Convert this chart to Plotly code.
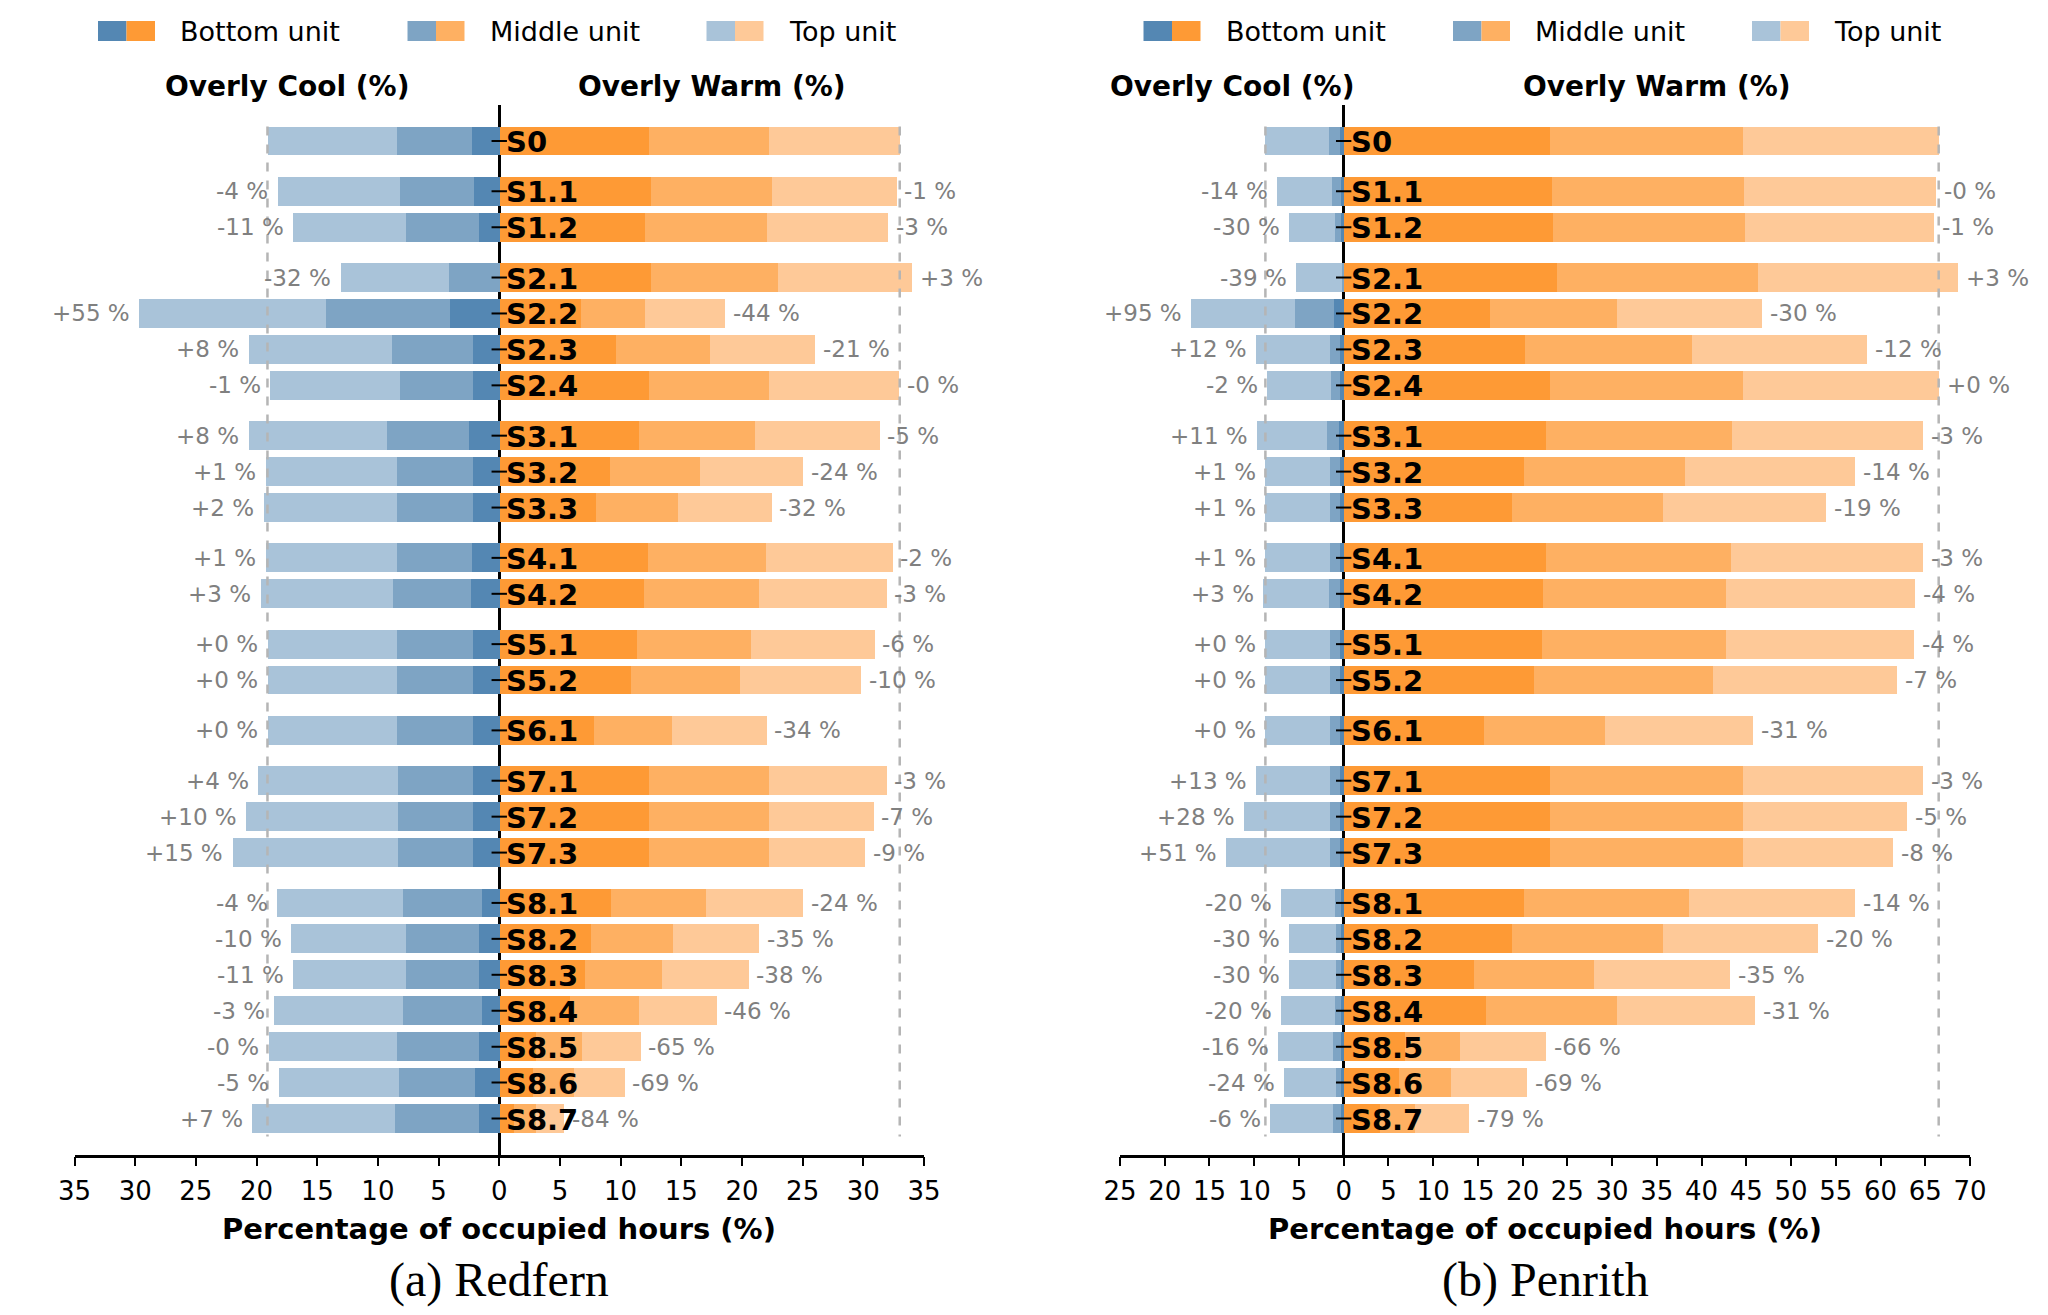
import plotly.graph_objects as go

# scenario rows (top to bottom)
scenarios = ["S0", "S1.1", "S1.2", "S2.1", "S2.2", "S2.3", "S2.4",
             "S3.1", "S3.2", "S3.3", "S4.1", "S4.2", "S5.1", "S5.2",
             "S6.1", "S7.1", "S7.2", "S7.3", "S8.1", "S8.2", "S8.3",
             "S8.4", "S8.5", "S8.6", "S8.7"]

# (a) Redfern - overly warm hours (%) per unit
redfern_warm_bottom = [12.3, 12.5, 12.0, 12.5, 6.7, 9.6, 12.3, 11.5, 9.1, 7.9, 12.2, 11.9, 11.3,
                       10.8, 7.8, 12.3, 12.3, 12.3, 9.2, 7.5, 7.0, 5.8, 3.0, 2.7, 1.2]
redfern_warm_middle = [9.9, 9.9, 10.0, 10.4, 5.3, 7.7, 9.9, 9.5, 7.4, 6.8, 9.7, 9.5, 9.4,
                       9.0, 6.4, 9.9, 9.9, 9.9, 7.8, 6.8, 6.35, 5.7, 3.8, 3.4, 1.8]
redfern_warm_top = [10.8, 10.3, 10.0, 11.1, 6.6, 8.7, 10.7, 10.3, 8.5, 7.7, 10.5, 10.5, 10.2,
                    10.0, 7.8, 9.7, 8.6, 7.9, 8.0, 7.1, 7.15, 6.4, 4.8, 4.2, 2.3]
# (a) Redfern - overly cool hours (%) per unit
redfern_cool_bottom = [2.25, 2.1, 1.75, 0.0, 4.1, 2.2, 2.2, 2.55, 2.2, 2.2, 2.3, 2.4, 2.2,
                       2.2, 2.2, 2.2, 2.2, 2.2, 1.5, 1.75, 1.75, 1.5, 1.7, 2.0, 1.7]
redfern_cool_middle = [6.2, 6.1, 5.95, 4.2, 10.2, 6.65, 6.05, 6.75, 6.25, 6.25, 6.2, 6.4, 6.25,
                       6.25, 6.25, 6.2, 6.2, 6.2, 6.5, 6.0, 6.0, 6.5, 6.8, 6.3, 6.9]
redfern_cool_top = [10.65, 10.1, 9.3, 8.9, 15.4, 11.85, 10.65, 11.4, 10.85, 11.0, 10.8, 10.9, 10.65,
                    10.65, 10.65, 11.5, 12.5, 13.6, 10.35, 9.45, 9.25, 10.6, 10.55, 9.9, 11.8]
redfern_cool_labels = ["", "-4 %", "-11 %", "-32 %", "+55 %", "+8 %", "-1 %", "+8 %", "+1 %",
                       "+2 %", "+1 %", "+3 %", "+0 %", "+0 %", "+0 %", "+4 %", "+10 %", "+15 %",
                       "-4 %", "-10 %", "-11 %", "-3 %", "-0 %", "-5 %", "+7 %"]
redfern_warm_labels = ["", "-1 %", "-3 %", "+3 %", "-44 %", "-21 %", "-0 %", "-5 %", "-24 %",
                       "-32 %", "-2 %", "-3 %", "-6 %", "-10 %", "-34 %", "-3 %", "-7 %", "-9 %",
                       "-24 %", "-35 %", "-38 %", "-46 %", "-65 %", "-69 %", "-84 %"]

# (b) Penrith - overly warm hours (%) per unit
penrith_warm_bottom = [23.1, 23.3, 23.4, 23.8, 16.3, 20.3, 23.1, 22.6, 20.1, 18.8, 22.6, 22.3, 22.2,
                       21.3, 15.7, 23.1, 23.1, 23.1, 20.1, 18.8, 14.6, 15.9, 6.9, 6.2, 4.1]
penrith_warm_middle = [21.5, 21.4, 21.4, 22.5, 14.2, 18.6, 21.5, 20.8, 18.1, 16.9, 20.7, 20.4, 20.5,
                       20.0, 13.5, 21.5, 21.5, 21.5, 18.5, 16.9, 13.4, 14.6, 6.1, 5.8, 3.9]
penrith_warm_top = [21.9, 21.5, 21.2, 22.4, 16.3, 19.6, 21.9, 21.3, 19.0, 18.2, 21.4, 21.1, 21.0,
                    20.5, 16.5, 20.2, 18.4, 16.8, 18.6, 17.3, 15.2, 15.5, 9.6, 8.5, 6.0]
# (b) Penrith - overly cool hours (%) per unit
penrith_cool_bottom = [0.4, 0.3, 0.3, 0.0, 1.05, 0.4, 0.4, 0.5, 0.4, 0.4, 0.4, 0.4, 0.4,
                       0.4, 0.4, 0.4, 0.4, 0.4, 0.3, 0.25, 0.25, 0.3, 0.3, 0.25, 0.3]
penrith_cool_middle = [1.2, 1.0, 0.7, 0.2, 4.35, 1.15, 1.0, 1.4, 1.15, 1.15, 1.15, 1.2, 1.15,
                       1.15, 1.15, 1.15, 1.15, 1.15, 0.7, 0.6, 0.6, 0.7, 0.85, 0.6, 0.85]
penrith_cool_top = [7.15, 6.2, 5.1, 5.1, 11.65, 8.25, 7.2, 7.8, 7.3, 7.3, 7.3, 7.4, 7.2,
                    7.2, 7.2, 8.3, 9.6, 11.6, 6.0, 5.25, 5.25, 6.0, 6.2, 5.8, 7.05]
penrith_cool_labels = ["", "-14 %", "-30 %", "-39 %", "+95 %", "+12 %", "-2 %", "+11 %", "+1 %",
                       "+1 %", "+1 %", "+3 %", "+0 %", "+0 %", "+0 %", "+13 %", "+28 %", "+51 %",
                       "-20 %", "-30 %", "-30 %", "-20 %", "-16 %", "-24 %", "-6 %"]
penrith_warm_labels = ["", "-0 %", "-1 %", "+3 %", "-30 %", "-12 %", "+0 %", "-3 %", "-14 %",
                       "-19 %", "-3 %", "-4 %", "-4 %", "-7 %", "-31 %", "-3 %", "-5 %", "-8 %",
                       "-14 %", "-20 %", "-35 %", "-31 %", "-66 %", "-69 %", "-79 %"]

redfern_ticks = [-35, -30, -25, -20, -15, -10, -5, 0, 5, 10, 15, 20, 25, 30, 35]
redfern_tick_text = ["35", "30", "25", "20", "15", "10", "5", "0", "5", "10", "15", "20", "25", "30", "35"]
penrith_ticks = [-25, -20, -15, -10, -5, 0, 5, 10, 15, 20, 25, 30, 35, 40, 45, 50, 55, 60, 65, 70]
penrith_tick_text = ["25", "20", "15", "10", "5", "0", "5", "10", "15", "20", "25", "30", "35",
                     "40", "45", "50", "55", "60", "65", "70"]

unit_names = ["Bottom unit", "Middle unit", "Top unit"]
blues = ["#5487b3", "#7ea4c4", "#a9c3d9"]
oranges = ["#fe9a35", "#feb062", "#fec998"]

FONT = "DejaVu Sans"
OFF = 8                      # page body margin
W, H = 2048 - OFF, 1315 - OFF


def xp(px):
    return (px - OFF) / W


def yp(px):
    return 1 - (px - OFF) / H


# rows grouped by scenario family, with a gap between families
groups = [int(s[1:].split(".")[0]) for s in scenarios]
y_pos = [i + 0.4 * g for i, g in enumerate(groups)]

fig = go.Figure()
annotations = []
shapes = []


def add_panel(n, cool, warm, cool_labels, warm_labels, xr, ticks, tick_text, dom_px, caption):
    xa = "x" if n == 1 else "x%d" % n
    ya = "y" if n == 1 else "y%d" % n
    for k in range(3):
        fig.add_trace(go.Bar(y=y_pos, x=[-v for v in cool[k]], orientation="h", width=0.8,
                             marker=dict(color=blues[k], line=dict(width=0)),
                             xaxis=xa, yaxis=ya, hoverinfo="skip"))
    for k in range(3):
        fig.add_trace(go.Bar(y=y_pos, x=warm[k], orientation="h", width=0.8,
                             marker=dict(color=oranges[k], line=dict(width=0)),
                             xaxis=xa, yaxis=ya, hoverinfo="skip"))
    # small y ticks on the zero line
    fig.add_trace(go.Scatter(x=[0] * len(y_pos), y=y_pos, mode="markers", xaxis=xa, yaxis=ya,
                             marker=dict(symbol="line-ew", size=11, line=dict(color="black", width=2)),
                             hoverinfo="skip"))

    cool_tot = [a + b + c for a, b, c in zip(*cool)]
    warm_tot = [a + b + c for a, b, c in zip(*warm)]

    # reference lines at S0 totals
    for xv in (-cool_tot[0], warm_tot[0]):
        shapes.append(dict(type="line", xref=xa, yref=ya, x0=xv, x1=xv, y0=-0.4, y1=27.7,
                           line=dict(color="#b5b5b5", width=2.5, dash="dash"), layer="above"))

    for y, ct, wt, cl, wl in zip(y_pos, cool_tot, warm_tot, cool_labels, warm_labels):
        if cl:
            annotations.append(dict(x=-ct, y=y, xref=xa, yref=ya, text=cl, showarrow=False,
                                    xanchor="right", yanchor="middle", xshift=-7,
                                    font=dict(family=FONT, size=23, color="#808080")))
        if wl:
            annotations.append(dict(x=wt, y=y, xref=xa, yref=ya, text=wl, showarrow=False,
                                    xanchor="left", yanchor="middle", xshift=6,
                                    font=dict(family=FONT, size=23, color="#808080")))
    for y, s in zip(y_pos, scenarios):
        annotations.append(dict(x=0, y=y, xref=xa, yref=ya, text=s, showarrow=False,
                                xanchor="left", yanchor="middle", xshift=5, yshift=-1,
                                font=dict(family=FONT, size=29, color="black", weight="bold")))

    # headers
    annotations.append(dict(x=xr[0] / 2, y=1, xref=xa, yref=ya + " domain", text="Overly Cool (%)",
                            showarrow=False, xanchor="center", yanchor="bottom",
                            font=dict(family=FONT, size=28, color="black", weight="bold")))
    annotations.append(dict(x=xr[1] / 2, y=1, xref=xa, yref=ya + " domain", text="Overly Warm (%)",
                            showarrow=False, xanchor="center", yanchor="bottom",
                            font=dict(family=FONT, size=28, color="black", weight="bold")))
    # axis title and caption
    annotations.append(dict(x=0.5, y=yp(1229), xref=xa + " domain", yref="paper",
                            text="Percentage of occupied hours (%)", showarrow=False,
                            xanchor="center", yanchor="middle",
                            font=dict(family=FONT, size=29, color="black", weight="bold")))
    annotations.append(dict(x=0.5, y=yp(1280), xref=xa + " domain", yref="paper",
                            text=caption, showarrow=False, xanchor="center", yanchor="middle",
                            font=dict(family="Liberation Serif", size=48, color="black")))

    # legend (two-colour swatches)
    left = dom_px[0]
    for k, (off, name) in enumerate(zip([23.5, 333, 632], unit_names)):
        x0 = left + off
        shapes.append(dict(type="rect", xref="paper", yref="paper",
                           x0=xp(x0), x1=xp(x0 + 28.5), y0=yp(41), y1=yp(21),
                           fillcolor=blues[k], line=dict(width=0)))
        shapes.append(dict(type="rect", xref="paper", yref="paper",
                           x0=xp(x0 + 28.5), x1=xp(x0 + 57), y0=yp(41), y1=yp(21),
                           fillcolor=oranges[k], line=dict(width=0)))
        annotations.append(dict(x=xp(x0 + 80), y=yp(31), xref="paper", yref="paper",
                                text=name, showarrow=False, xanchor="left", yanchor="middle",
                                font=dict(family=FONT, size=27, color="black")))

    axis_x = dict(domain=[xp(dom_px[0]), xp(dom_px[1])], range=xr, anchor=ya, automargin=False,
                  tickmode="array", tickvals=ticks, ticktext=tick_text,
                  showgrid=False, zeroline=True, zerolinecolor="black", zerolinewidth=2.5,
                  showline=True, linecolor="black", linewidth=2.5, ticks="outside",
                  ticklen=9, tickwidth=2, tickcolor="black", ticklabelstandoff=3,
                  tickfont=dict(family=FONT, size=26, color="black"), layer="above traces")
    axis_y = dict(domain=[yp(1154.5), yp(105)], range=[28.2, -1.0], anchor=xa, automargin=False,
                  showgrid=False, zeroline=False, showline=False, showticklabels=False, ticks="")
    fig.layout["xaxis" if n == 1 else "xaxis%d" % n] = axis_x
    fig.layout["yaxis" if n == 1 else "yaxis%d" % n] = axis_y


add_panel(1,
          [redfern_cool_bottom, redfern_cool_middle, redfern_cool_top],
          [redfern_warm_bottom, redfern_warm_middle, redfern_warm_top],
          redfern_cool_labels, redfern_warm_labels,
          [-35, 35], redfern_ticks, redfern_tick_text, [74.5, 924], "(a) Redfern")
add_panel(2,
          [penrith_cool_bottom, penrith_cool_middle, penrith_cool_top],
          [penrith_warm_bottom, penrith_warm_middle, penrith_warm_top],
          penrith_cool_labels, penrith_warm_labels,
          [-25, 70], penrith_ticks, penrith_tick_text, [1120, 1970], "(b) Penrith")

fig.update_layout(width=W, height=H, autosize=False, barmode="relative", bargap=0,
                  showlegend=False, plot_bgcolor="white", paper_bgcolor="white",
                  margin=dict(l=0, r=0, t=0, b=0),
                  annotations=annotations, shapes=shapes)

fig.write_html("out.html")
